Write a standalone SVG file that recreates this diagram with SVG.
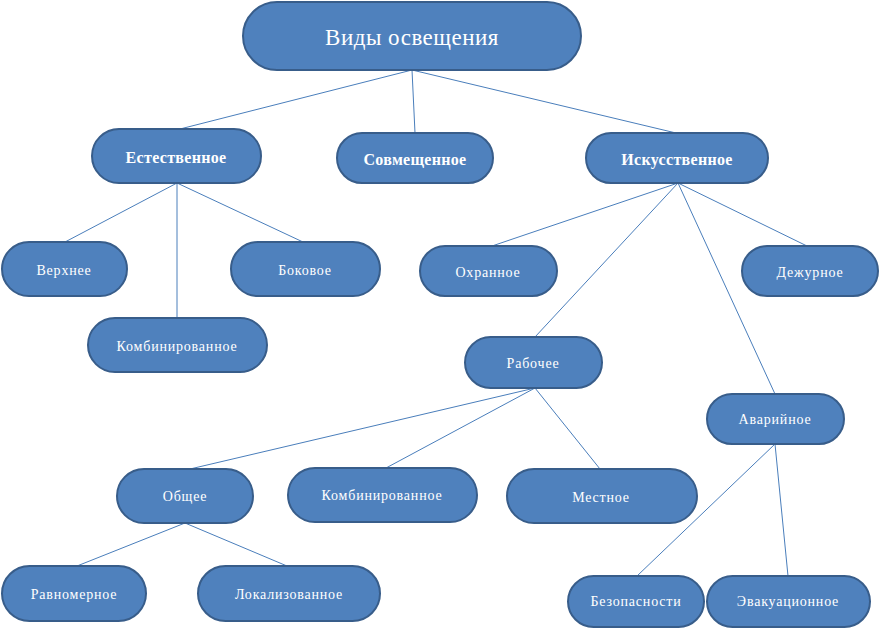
<svg xmlns="http://www.w3.org/2000/svg" width="880" height="628" viewBox="0 0 880 628">
<style>
.n{fill:#4f81bd;stroke:#385d8a;stroke-width:2}
.t{fill:#fff;font-family:'Liberation Serif','DejaVu Serif',serif;text-anchor:middle;dominant-baseline:central;font-size:14px;letter-spacing:0.8px}
.b{font-weight:bold;font-size:16px;letter-spacing:0.3px}
.r{font-size:23px;letter-spacing:0.5px}
.c line{stroke:#4a7ebb;stroke-width:1}
</style>
<rect width="880" height="628" fill="#fff"/>
<g class="c" id="connectors">
<line x1="412" y1="70" x2="180" y2="129"/>
<line x1="412" y1="70" x2="415" y2="133"/>
<line x1="412" y1="70" x2="676" y2="133"/>
<line x1="177" y1="183" x2="65" y2="242"/>
<line x1="177" y1="183" x2="177" y2="318"/>
<line x1="177" y1="183" x2="303" y2="242"/>
<line x1="678" y1="183" x2="492" y2="246"/>
<line x1="678" y1="183" x2="535" y2="337"/>
<line x1="678" y1="183" x2="775" y2="394"/>
<line x1="678" y1="183" x2="807" y2="246"/>
<line x1="535" y1="388" x2="190" y2="469"/>
<line x1="535" y1="388" x2="386" y2="468"/>
<line x1="535" y1="388" x2="600" y2="469"/>
<line x1="775" y1="444" x2="637" y2="576"/>
<line x1="775" y1="444" x2="788" y2="576"/>
<line x1="185" y1="523" x2="77" y2="566"/>
<line x1="185" y1="523" x2="287" y2="566"/>
</g>
<g id="root"><rect class="n" x="243" y="2" width="338" height="68" rx="34"/><text class="t r" x="412" y="37" font-family="Liberation Serif">Виды освещения</text></g>
<g id="natural"><rect class="n" x="92" y="129" width="169" height="54" rx="27"/><text class="t b" x="176" y="157">Естественное</text></g>
<g id="combined-top"><rect class="n" x="337" y="133" width="156" height="50" rx="25"/><text class="t b" x="415" y="159">Совмещенное</text></g>
<g id="artificial"><rect class="n" x="586" y="133" width="182" height="50" rx="25"/><text class="t b" x="677" y="159">Искусственное</text></g>
<g id="upper"><rect class="n" x="2" y="242" width="125" height="54" rx="27"/><text class="t" x="64" y="270">Верхнее</text></g>
<g id="side"><rect class="n" x="231" y="242" width="149" height="54" rx="27"/><text class="t" x="305" y="270">Боковое</text></g>
<g id="combined-natural"><rect class="n" x="88" y="318" width="179" height="54" rx="27"/><text class="t" x="177" y="346">Комбинированное</text></g>
<g id="guard"><rect class="n" x="420" y="246" width="137" height="50" rx="25"/><text class="t" x="488" y="272">Охранное</text></g>
<g id="duty"><rect class="n" x="742" y="246" width="136" height="50" rx="25"/><text class="t" x="810" y="272">Дежурное</text></g>
<g id="working"><rect class="n" x="465" y="337" width="137" height="51" rx="25.5"/><text class="t" x="533" y="363">Рабочее</text></g>
<g id="emergency"><rect class="n" x="707" y="394" width="137" height="50" rx="25"/><text class="t" x="775" y="419">Аварийное</text></g>
<g id="general"><rect class="n" x="117" y="469" width="136" height="54" rx="27"/><text class="t" x="185" y="496">Общее</text></g>
<g id="combined-working"><rect class="n" x="288" y="468" width="189" height="54" rx="27"/><text class="t" x="382" y="495">Комбинированное</text></g>
<g id="local"><rect class="n" x="507" y="469" width="190" height="54" rx="27"/><text class="t" x="601" y="497">Местное</text></g>
<g id="uniform"><rect class="n" x="2" y="566" width="144" height="55" rx="27.5"/><text class="t" x="74" y="594">Равномерное</text></g>
<g id="localized"><rect class="n" x="198" y="566" width="182" height="55" rx="27.5"/><text class="t" x="289" y="594">Локализованное</text></g>
<g id="safety"><rect class="n" x="568" y="576" width="136" height="51" rx="25.5"/><text class="t" x="636" y="601">Безопасности</text></g>
<g id="evacuation"><rect class="n" x="707" y="576" width="163" height="51" rx="25.5"/><text class="t" x="788" y="601">Эвакуационное</text></g>
</svg>
